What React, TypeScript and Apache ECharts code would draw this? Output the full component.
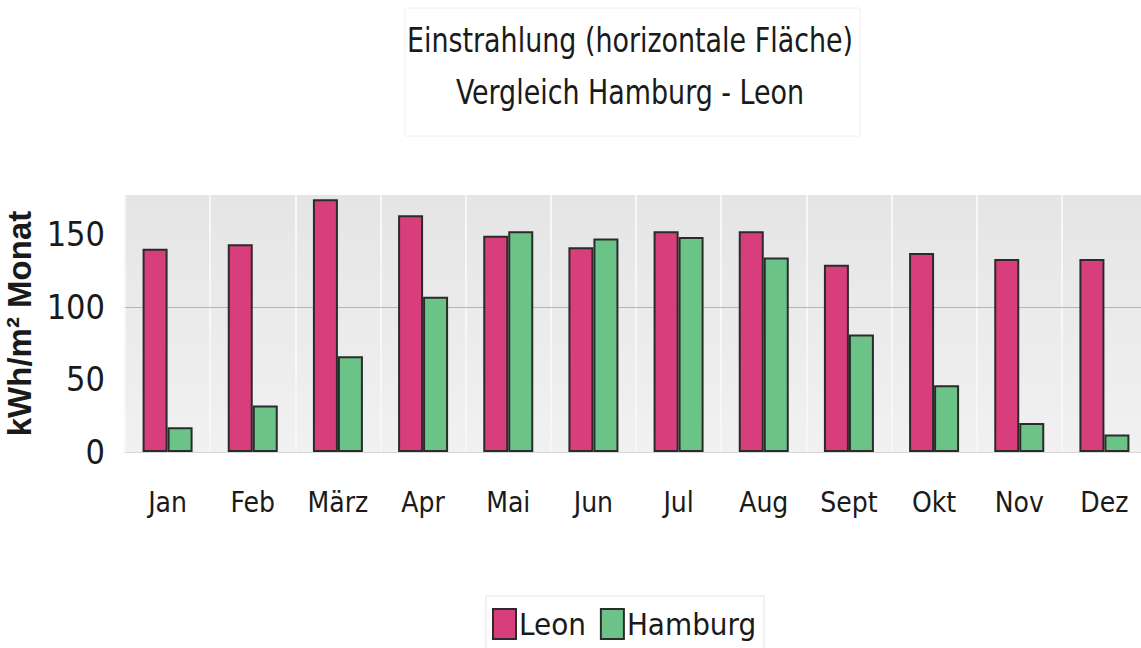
import React, { useEffect, useRef } from "react";
import * as echarts from "echarts";

const categories = ["Jan", "Feb", "März", "Apr", "Mai", "Jun", "Jul", "Aug", "Sept", "Okt", "Nov", "Dez"];
const leon = [140, 143, 174, 163, 149, 141, 152, 152, 129, 137, 133, 133];
const hamburg = [17, 32, 66, 107, 152, 147, 148, 134, 81, 46, 20, 12];
const titleLines = ["Einstrahlung (horizontale Fläche)", "Vergleich Hamburg - Leon"];
const yAxisName = "kWh/m² Monat";

const NARROW = '"Liberation Sans Narrow", "DejaVu Sans Condensed", "Arial Narrow", sans-serif';

export default function App() {
  const ref = useRef<HTMLDivElement>(null);
  useEffect(() => {
    if (!ref.current) return;
    const chart = echarts.init(ref.current, null, { renderer: "svg" });
    chart.setOption({
      animation: false,
      backgroundColor: "#ffffff",
      graphic: [
        {
          type: "rect",
          shape: { x: 405, y: 8, width: 455, height: 128 },
          style: { fill: "none", stroke: "#eeeeee", lineWidth: 1 },
        },
        {
          type: "text",
          x: 630,
          y: 14,
          scaleX: 0.88,
          style: {
            text: titleLines.join("\n"),
            textAlign: "center",
            fontFamily: NARROW,
            fontSize: 34,
            lineHeight: 52,
            fill: "#1a1a1a",
          },
        },
      ],
      legend: {
        data: ["Leon", "Hamburg"],
        left: 486,
        top: 596,
        itemWidth: 23,
        itemHeight: 30,
        itemGap: 14,
        icon: "rect",
        borderColor: "#e4e4e4",
        borderWidth: 1,
        padding: [12, 8, 12, 6],
        textStyle: { fontFamily: NARROW, fontSize: 31, color: "#1a1a1a", padding: [0, 0, 0, -2] },
      },
      grid: {
        left: 125,
        top: 195,
        width: 1022,
        height: 257,
        outerBoundsMode: "none",
        containLabel: false,
        show: true,
        borderWidth: 0,
        backgroundColor: {
          type: "linear",
          x: 0, y: 0, x2: 0, y2: 1,
          colorStops: [
            { offset: 0, color: "#e5e5e5" },
            { offset: 1, color: "#f1f1f1" },
          ],
        },
      },
      xAxis: {
        type: "category",
        data: categories,
        axisTick: { show: false },
        axisLine: { show: true, lineStyle: { color: "#d8d8d8", width: 1 } },
        splitLine: { show: true, interval: 0, lineStyle: { color: "#f7f7f7", width: 2 } },
        axisLabel: { interval: 0, fontFamily: NARROW, fontSize: 28, color: "#1a1a1a", margin: 36 },
      },
      yAxis: {
        type: "value",
        min: 0,
        max: 177,
        interval: 50,
        name: yAxisName,
        nameLocation: "middle",
        nameRotate: 90,
        nameGap: 80,
        nameTextStyle: { fontFamily: "Liberation Sans, Arial, sans-serif", fontWeight: "bold", fontSize: 33, color: "#1a1a1a" },
        axisLine: { show: false },
        axisTick: { show: false },
        splitLine: { show: false },
        axisLabel: { fontFamily: NARROW, fontSize: 34, color: "#1a1a1a", margin: 20, showMaxLabel: false },
      },
      series: [
        {
          name: "Leon",
          type: "bar",
          data: leon,
          barWidth: 25,
          barGap: "0%",
          itemStyle: { color: "#d83e7c", borderColor: "#2b2b2b", borderWidth: 2 },
          markLine: {
            silent: true,
            symbol: "none",
            label: { show: false },
            lineStyle: { color: "#b5b5b5", type: "solid", width: 1 },
            data: [{ yAxis: 100 }],
            z: 0,
          },
        },
        {
          name: "Hamburg",
          type: "bar",
          data: hamburg,
          barWidth: 25,
          barGap: "0%",
          itemStyle: { color: "#6cc388", borderColor: "#2b2b2b", borderWidth: 2 },
        },
      ],
    });
    return () => chart.dispose();
  }, []);
  return (
    <div
      ref={ref}
      style={{ position: "fixed", left: 0, top: 0, width: 1141, height: 648, background: "#fff" }}
    />
  );
}
